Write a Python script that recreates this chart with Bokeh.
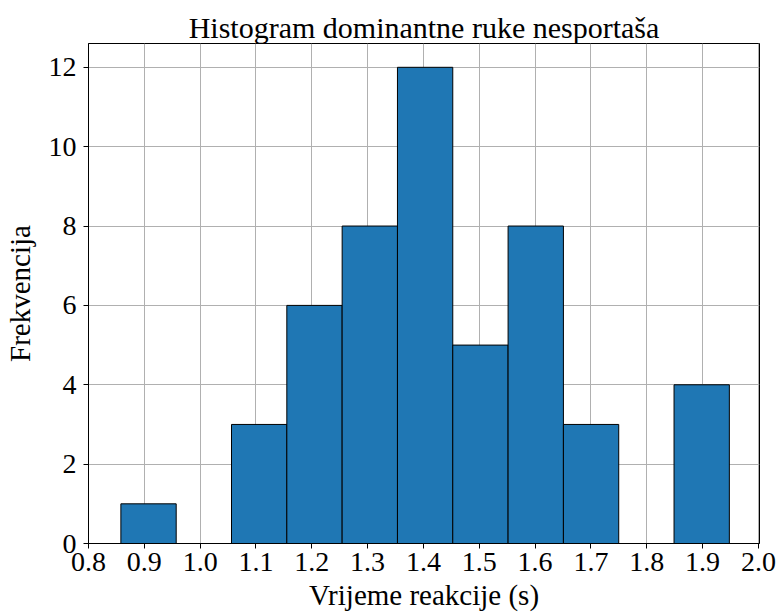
import numpy as np
from bokeh.plotting import figure
from bokeh.models import FixedTicker, Range1d, CustomJSTickFormatter
from bokeh.embed import file_html
from bokeh.resources import INLINE

# Histogram data
counts = [1, 0, 3, 6, 8, 12, 5, 8, 3, 0, 4]
data_min = 0.858
data_max = 1.948
x_ticks = [0.8, 0.9, 1.0, 1.1, 1.2, 1.3, 1.4, 1.5, 1.6, 1.7, 1.8, 1.9, 2.0]
y_ticks = [0, 2, 4, 6, 8, 10, 12]

edges = np.linspace(data_min, data_max, len(counts) + 1)
left = edges[:-1]
right = edges[1:]

FONT = "Liberation Serif"

p = figure(width=777, height=616, output_backend="svg", toolbar_location=None,
           x_range=Range1d(0.8, 2.002), y_range=Range1d(0, 12.6),
           title="Histogram dominantne ruke nesportaša",
           min_border_left=88, min_border_right=18, min_border_top=43, min_border_bottom=73)
p.frame_width = 671
p.frame_height = 500

p.quad(left=left, right=right, bottom=0, top=counts,
       fill_color="#1f77b4", line_color="black", line_width=1)

p.title.text_font = FONT
p.title.text_font_size = "30px"
p.title.text_font_style = "normal"
p.title.align = "center"
p.title.text_color = "black"
p.title.offset = -8
p.title.standoff = 0

p.xaxis.ticker = FixedTicker(ticks=x_ticks)
p.yaxis.ticker = FixedTicker(ticks=y_ticks)
p.xaxis.formatter = CustomJSTickFormatter(code="return tick.toFixed(1);")
p.xaxis.axis_label = "Vrijeme reakcije (s)"
p.yaxis.axis_label = "Frekvencija"

for ax in (p.xaxis, p.yaxis):
    ax.axis_label_text_font = FONT
    ax.axis_label_text_font_size = "29px"
    ax.axis_label_text_font_style = "normal"
    ax.axis_label_text_color = "black"
    ax.major_label_text_font = FONT
    ax.major_label_text_font_size = "28px"
    ax.major_label_text_color = "black"
    ax.axis_line_color = "black"
    ax.axis_line_width = 1
    ax.major_tick_line_color = "black"
    ax.major_tick_in = 0
    ax.major_tick_out = 5
    ax.minor_tick_line_color = None

p.xaxis.major_label_standoff = 4
p.xaxis.axis_label_standoff = 5
p.yaxis.major_label_standoff = 7
p.yaxis.axis_label_standoff = 10

p.xgrid.grid_line_color = "#b0b0b0"
p.ygrid.grid_line_color = "#b0b0b0"
p.xgrid.grid_line_width = 1
p.ygrid.grid_line_width = 1

p.outline_line_color = "black"
p.outline_line_width = 1
p.background_fill_color = "white"
p.border_fill_color = "white"

open("out.html", "w").write(file_html(p, INLINE))
